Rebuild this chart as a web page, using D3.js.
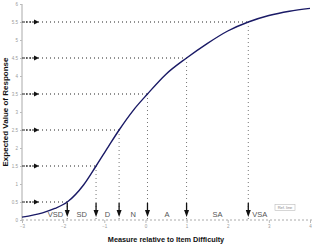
<!DOCTYPE html>
<html>
<head>
<meta charset="utf-8">
<script src="https://cdn.jsdelivr.net/npm/d3@7"></script>
<style>
  body { margin: 0; background: #fff; }
  svg { display: block; font-family: Arial, "Liberation Sans", sans-serif; }
</style>
</head>
<body>
<svg id="chart" width="312" height="246"></svg>
<script>
// expected score curve
const measures = [-3, -2.5, -2.2, -1.9, -1.5, -1.2, -0.9, -0.64, -0.3, 0.05, 0.5, 1, 1.5, 2, 2.5, 3, 3.5, 4];
const expected = [0.08, 0.2, 0.32, 0.5, 0.98, 1.5, 2.04, 2.5, 3.04, 3.5, 4.05, 4.5, 4.9, 5.25, 5.5, 5.68, 5.8, 5.88];

// half-point crossings (category boundaries)
const crossLevels = [0.5, 1.5, 2.5, 3.5, 4.5, 5.5];
const crossMeasures = [-1.9, -1.2, -0.64, 0.05, 1.0, 2.5];
const categories = ['VSD', 'SD', 'D', 'N', 'A', 'SA', 'VSA'];

const xTicks = [-3, -2, -1, 0, 1, 2, 3, 4];
const yTicks = [0, 0.5, 1, 1.5, 2, 2.5, 3, 3.5, 4, 4.5, 5, 5.5, 6];

const svg = d3.select('#chart');
const x = d3.scaleLinear().domain([-3, 4]).range([22, 310]);
const y = d3.scaleLinear().domain([0, 6]).range([220, 4]);

// y axis
const yAxis = svg.append('g')
  .attr('transform', 'translate(22,0)')
  .call(d3.axisLeft(y).tickValues(yTicks).tickSize(2).tickFormat(d3.format('')));
yAxis.select('.domain').attr('stroke', '#aaa').attr('d', 'M0,4V220');
yAxis.selectAll('.tick line').attr('stroke', '#bbb');
yAxis.selectAll('.tick text').attr('fill', '#999').attr('font-size', 4.5).attr('x', -4);

// x axis (dashed)
const xAxis = svg.append('g')
  .attr('transform', 'translate(0,220)')
  .call(d3.axisBottom(x).tickValues(xTicks).tickSize(3).tickFormat(d3.format('')));
xAxis.select('.domain').attr('stroke', '#aaa').attr('stroke-dasharray', '2,2').attr('d', 'M22,0H312');
xAxis.selectAll('.tick line').attr('stroke', '#bbb');
xAxis.selectAll('.tick text').attr('fill', '#999').attr('font-size', 4.5).attr('y', 5);

// horizontal guide lines from axis to curve
const guides = svg.append('g');
crossLevels.forEach((lv, i) => {
  const yy = y(lv), xx = x(crossMeasures[i]);
  guides.append('line')
    .attr('x1', 22).attr('x2', xx).attr('y1', yy).attr('y2', yy)
    .attr('stroke', '#222').attr('stroke-width', 1).attr('stroke-dasharray', '1,3');
  guides.append('line')
    .attr('x1', 23).attr('x2', 34).attr('y1', yy).attr('y2', yy)
    .attr('stroke', '#222').attr('stroke-width', 1).attr('stroke-dasharray', '2,1');
  guides.append('path')
    .attr('d', `M34,${yy - 2.5}L39,${yy}L34,${yy + 2.5}Z`)
    .attr('fill', '#111');

  // vertical drop to x axis
  guides.append('line')
    .attr('x1', xx).attr('x2', xx).attr('y1', yy).attr('y2', 220)
    .attr('stroke', '#777').attr('stroke-width', 1).attr('stroke-dasharray', '1,3');
  guides.append('line')
    .attr('x1', xx).attr('x2', xx).attr('y1', 203).attr('y2', 211)
    .attr('stroke', '#111').attr('stroke-width', 1.3);
  guides.append('path')
    .attr('d', `M${xx - 2.5},210L${xx},217L${xx + 2.5},210Z`)
    .attr('fill', '#111');
});

// curve
svg.append('path')
  .datum(measures.map((m, i) => [m, expected[i]]))
  .attr('fill', 'none')
  .attr('stroke', '#1a1a66')
  .attr('stroke-width', 1.4)
  .attr('d', d3.line().x(d => x(d[0])).y(d => y(d[1])).curve(d3.curveMonotoneX));

// category labels between drops
const bounds = crossMeasures.map(m => x(m));
svg.append('g').selectAll('text')
  .data(categories)
  .join('text')
  .attr('x', (d, i) => {
    if (i === 0) return bounds[0] - 4;
    if (i === categories.length - 1) return bounds[i - 1] + 4;
    return (bounds[i - 1] + bounds[i]) / 2;
  })
  .attr('y', 217)
  .attr('text-anchor', (d, i) => i === 0 ? 'end' : (i === categories.length - 1 ? 'start' : 'middle'))
  .attr('font-size', 7.5)
  .attr('fill', '#555')
  .text(d => d);

// little reference box
svg.append('rect')
  .attr('x', 275).attr('y', 204.5).attr('width', 20).attr('height', 6)
  .attr('fill', '#fff').attr('stroke', '#bbb').attr('stroke-width', 0.6);
svg.append('text')
  .attr('x', 285).attr('y', 209.3).attr('text-anchor', 'middle')
  .attr('font-size', 4).attr('fill', '#888').text('Ref. line');

// axis titles
svg.append('text')
  .attr('transform', 'translate(8,112) rotate(-90)')
  .attr('text-anchor', 'middle')
  .attr('font-size', 8).attr('font-weight', 'bold').attr('fill', '#111')
  .text('Expected Value of Response');
svg.append('text')
  .attr('x', 166).attr('y', 242)
  .attr('text-anchor', 'middle')
  .attr('font-size', 7.3).attr('font-weight', 'bold').attr('fill', '#111')
  .text('Measure relative to Item Difficulty');
</script>
</body>
</html>
